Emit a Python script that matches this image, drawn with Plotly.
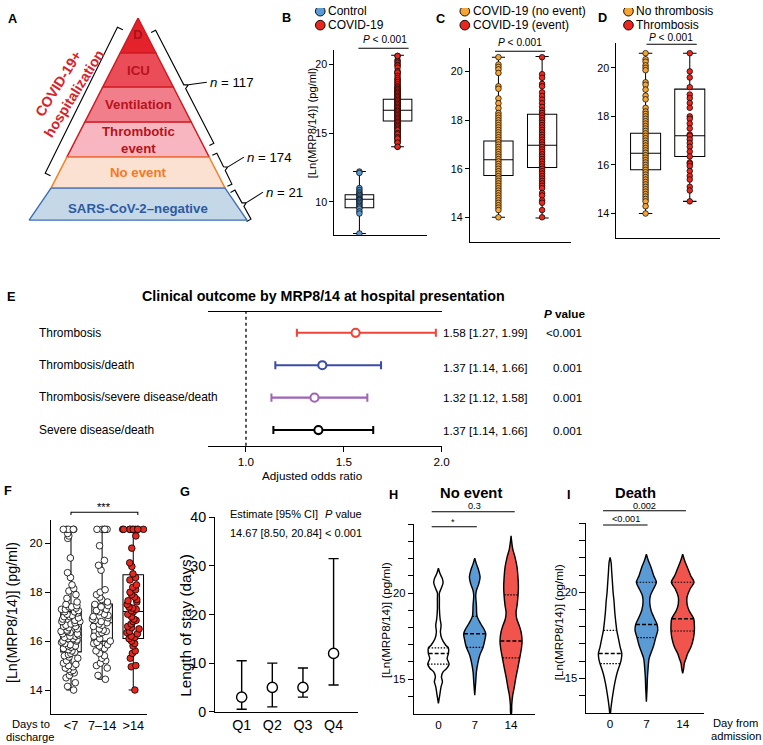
import numpy as np
import plotly.graph_objects as go

# Built in reference pixel space (763x745) and mapped onto the output canvas.
W, H = 763, 745
SX = 775 / 763
SY = 761 / 745
OY = -8.0
FW, FH = 775, 753
SF = (SX + SY) / 2
FONT = "Liberation Sans, Arial, Helvetica, sans-serif"

# ======================= DATA =======================
# Panel A
tier_labels = ["D", "ICU", "Ventilation", "Thrombotic<br>event", "No event", "SARS-CoV-2–negative"]
group_sizes = [117, 174, 21]

# Panel B
b_groups = ["Control", "COVID-19"]
b_q1 = [9.57, 15.87]
b_med = [10.18, 16.65]
b_q3 = [10.52, 17.45]
b_lo = [7.7, 14.0]
b_hi = [12.2, 20.65]
b_control = [12.2, 12.1, 11.0, 10.85, 10.7, 10.6, 10.5, 10.4, 10.3, 10.2, 10.15,
             10.1, 10.0, 9.9, 9.8, 9.7, 9.6, 9.5, 9.3, 9.15, 7.7]

# Panel C
c_groups = ["COVID-19 (no event)", "COVID-19 (event)"]
c_q1 = [15.72, 16.05]
c_med = [16.37, 16.97]
c_q3 = [17.15, 18.25]
c_lo = [14.0, 13.97]
c_hi = [20.6, 20.63]
c_no_event = [20.6, 20.3, 20.2, 20.1, 19.95, 19.4, 19.3, 18.9, 18.7, 18.5, 18.3, 18.2, 18.1,
              18.0, 17.9, 17.8, 17.7, 17.6, 17.5, 17.4, 17.3, 17.2, 17.1, 17.0, 16.9, 16.8,
              16.7, 16.6, 16.5, 16.4, 16.3, 16.2, 16.1, 16.0, 15.9, 15.8, 15.7, 15.6, 15.5,
              15.4, 15.3, 15.2, 15.1, 15.0, 14.9, 14.8, 14.7, 14.6, 14.5, 14.4, 14.3, 14.0]
c_event = [20.6, 19.9, 19.75, 19.5, 19.4, 19.15, 19.0, 18.85, 18.7, 18.55, 18.4, 18.3, 18.2,
           18.1, 18.0, 17.9, 17.8, 17.7, 17.6, 17.5, 17.4, 17.3, 17.2, 17.1, 17.0, 16.9,
           16.8, 16.7, 16.6, 16.5, 16.4, 16.3, 16.2, 16.1, 16.0, 15.9, 15.8, 15.7, 15.6,
           15.5, 15.4, 15.3, 15.2, 15.0, 14.9, 14.7, 14.6, 14.3, 14.0]

# Panel D
d_groups = ["No thrombosis", "Thrombosis"]
d_q1 = [15.8, 16.35]
d_med = [16.48, 17.2]
d_q3 = [17.3, 19.12]
d_lo = [14.0, 14.5]
d_hi = [20.6, 20.6]
d_no_thrombosis = [20.6, 20.35, 20.25, 20.1, 20.0, 19.9, 19.4, 19.3, 19.1, 18.85, 18.7, 18.35,
                   18.2, 18.1, 18.0, 17.9, 17.8, 17.7, 17.6, 17.5, 17.4, 17.3, 17.2, 17.1,
                   17.0, 16.9, 16.8, 16.7, 16.6, 16.5, 16.4, 16.3, 16.2, 16.1, 16.0, 15.9,
                   15.8, 15.7, 15.6, 15.5, 15.4, 15.3, 15.2, 15.1, 15.0, 14.9, 14.8, 14.7,
                   14.6, 14.5, 14.3, 14.0]
d_thrombosis = [20.6, 19.85, 19.6, 19.2, 18.9, 18.75, 18.55, 18.35, 18.0, 17.9, 17.7, 17.5,
                17.25, 17.2, 17.05, 16.9, 16.75, 16.55, 16.35, 16.1, 16.05, 15.95, 15.75,
                15.55, 15.4, 15.1, 14.95, 14.5]

# Panel E
e_outcomes = ["Thrombosis", "Thrombosis/death", "Thrombosis/severe disease/death", "Severe disease/death"]
e_or = [1.56, 1.39, 1.35, 1.37]
e_lo = [1.26, 1.15, 1.13, 1.14]
e_hi = [1.97, 1.69, 1.62, 1.65]
e_text = ["1.58 [1.27, 1.99]", "1.37 [1.14, 1.66]", "1.32 [1.12, 1.58]", "1.37 [1.14, 1.66]"]
e_p = ["<0.001", "0.001", "0.001", "0.001"]

# Panel F
f_cats = ["<7", "7–14", ">14"]
f_q1 = [15.56, 16.0, 16.11]
f_med = [16.35, 16.75, 17.21]
f_q3 = [17.21, 17.52, 18.71]
f_lo = [14.0, 14.44, 14.0]
f_hi = [20.57, 20.57, 20.57]
f_under7 = [20.57, 20.57, 20.57, 20.57, 20.57, 20.4, 20.3, 20.2, 19.4, 18.8, 18.6, 18.3, 18.15,
            18.05, 17.9, 17.75, 17.6, 17.5, 17.45, 17.4, 17.4, 17.35, 17.3, 17.3, 17.25, 17.2,
            17.2, 17.15, 17.1, 17.05, 17.0, 17.0, 16.95, 16.9, 16.85, 16.8, 16.8, 16.75, 16.7,
            16.65, 16.6, 16.6, 16.55, 16.5, 16.45, 16.4, 16.4, 16.35, 16.3, 16.3, 16.25, 16.2,
            16.2, 16.15, 16.1, 16.1, 16.05, 16.0, 16.0, 15.95, 15.9, 15.85, 15.8, 15.8, 15.75,
            15.7, 15.65, 15.6, 15.55, 15.5, 15.45, 15.4, 15.35, 15.3, 15.2, 15.1, 15.05, 15.0,
            14.95, 14.9, 14.85, 14.8, 14.75, 14.7, 14.6, 14.5, 14.3, 14.15, 14.0]
f_7to14 = [20.57, 20.57, 20.57, 20.57, 20.57, 19.9, 19.3, 19.1, 18.9, 18.1, 18.0, 17.9, 17.8,
           17.7, 17.6, 17.5, 17.45, 17.4, 17.3, 17.25, 17.2, 17.1, 17.05, 17.0, 16.95, 16.9,
           16.85, 16.8, 16.75, 16.7, 16.65, 16.6, 16.5, 16.45, 16.4, 16.35, 16.3, 16.2, 16.1,
           16.0, 15.95, 15.9, 15.85, 15.8, 15.7, 15.6, 15.5, 15.4, 15.3, 15.2, 15.1, 15.0,
           14.9, 14.6, 14.44]
f_over14 = [20.57, 20.57, 20.57, 20.57, 20.57, 20.57, 20.57, 20.57, 20.57, 20.57, 20.3, 19.8,
            19.2, 19.05, 18.75, 18.6, 18.5, 18.3, 18.2, 18.1, 18.0, 17.9, 17.8, 17.7, 17.65,
            17.6, 17.5, 17.4, 17.35, 17.3, 17.25, 17.2, 17.1, 17.0, 16.9, 16.85, 16.8, 16.7,
            16.6, 16.55, 16.5, 16.4, 16.35, 16.3, 16.2, 16.15, 16.1, 16.0, 15.9, 15.8, 15.6,
            15.5, 15.3, 15.0, 14.95, 14.0]

# Panel G
g_cats = ["Q1", "Q2", "Q3", "Q4"]
g_est = [3.0, 5.0, 5.0, 12.0]
g_lo = [0.5, 1.0, 3.0, 5.5]
g_hi = [10.5, 10.0, 9.0, 31.5]

# Panels H / I (violin outlines: value, relative density)
day_labels = ["0", "7", "14"]
h0_v = [21.45, 21.12, 20.83, 20.60, 20.25, 20.02, 19.67, 19.09, 18.51, 18.13, 17.74, 17.36,
        16.97, 16.81, 16.49, 16.20, 15.87, 15.62, 15.42, 15.14, 14.85, 14.56, 14.07, 13.59]
h0_d = [0, 5, 12, 14, 8, 3, 3, 3, 5, 8, 6, 10, 22, 30, 30, 26, 32, 25, 14, 9, 12, 8, 4, 0]
h7_v = [22.03, 21.70, 21.31, 20.92, 20.54, 20.15, 19.86, 19.29, 18.65, 18.22, 17.93, 17.64,
        17.26, 16.85, 16.39, 16.0, 15.42, 14.85, 14.07]
h7_d = [0, 5, 12, 16, 12, 5, 3, 5, 7, 18, 27, 33, 30, 25, 15, 10, 5, 3, 0]
h14_v = [23.34, 22.57, 22.08, 21.50, 20.83, 20.35, 19.90, 19.29, 18.90, 18.51, 18.13, 17.74,
         17.22, 16.78, 16.24, 15.62, 15.04, 14.46, 14.07, 13.49, 12.97]
h14_d = [0, 5, 12, 18, 21, 22, 21, 18, 15, 17, 24, 30, 33, 31, 26, 20, 14, 9, 5, 2, 1]
i0_v = [22.02, 21.73, 21.15, 20.58, 20.0, 19.42, 18.85, 18.27, 17.79, 17.31, 16.83, 16.44,
        16.06, 15.85, 15.38, 15.0, 14.52, 14.04, 13.65, 13.17, 12.98]
i0_d = [0, 3, 5, 7, 9, 12, 14, 17, 20, 25, 30, 35, 33, 30, 22, 17, 12, 8, 5, 2, 1]
i7_v = [22.21, 21.83, 21.44, 20.96, 20.58, 20.19, 19.81, 19.42, 18.94, 18.56, 18.13, 17.79,
        17.37, 16.92, 16.54, 16.15, 15.58, 15.0, 14.42, 13.65]
i7_d = [0, 6, 14, 22, 30, 21, 12, 10, 14, 22, 32, 34, 28, 22, 15, 8, 5, 3, 2, 0]
i14_v = [22.21, 21.83, 21.44, 20.96, 20.58, 20.19, 19.71, 19.33, 18.94, 18.46, 18.08, 17.75,
         17.31, 16.83, 16.44, 16.15, 15.87, 15.58, 15.29]
i14_d = [0, 6, 14, 24, 34, 22, 13, 13, 19, 33, 35, 35, 32, 25, 15, 10, 5, 3, 0]
h_quart = [[16.81, 16.49, 15.87], [18.65, 17.64, 16.85], [19.90, 17.22, 16.24]]
i_quart = [[17.79, 16.44, 15.85], [20.58, 18.13, 17.37], [20.58, 18.46, 17.75]]
violin_ytick_vals = [14, 15, 16, 17, 18, 19, 20, 21, 22, 23, 24]
violin_ytick_text = ["", "15", "", "", "", "", "20", "", "", "", ""]

# ======================= STYLE =======================
BLUE_PT = "#5b9bd5"
RED_PT = "#e8281e"
ORANGE_PT = "#f5a535"
V_BLUE = "#5b9bd5"
V_RED = "#f1534d"
E_COLORS = ["#f0433a", "#3b4ea6", "#a163b5", "#000000"]


def fs(v):
    return v * SF


def tf(size):
    return dict(family=FONT, size=fs(size), color="black")


fig = go.Figure()
ann = []


def txt(x, y, s, size=12, bold=False, color="black", xa="center", ya="middle", angle=0):
    if bold:
        s = f"<b>{s}</b>"
    ann.append(dict(x=x, y=y, xref="x", yref="y", text=s, showarrow=False,
                    font=dict(family=FONT, size=fs(size), color=color),
                    xanchor=xa, yanchor=ya, textangle=angle, borderpad=0))


def seg(xs, ys, color="black", width=1.0, dash="solid"):
    fig.add_trace(go.Scatter(x=xs, y=ys, mode="lines", xaxis="x", yaxis="y",
                             line=dict(color=color, width=fs(width), dash=dash),
                             hoverinfo="skip", showlegend=False))


def brace(p0, p1, inward_x, hook=5.0, tip=4.0, notch=True):
    p0 = np.array(p0, float)
    p1 = np.array(p1, float)
    d = (p1 - p0) / np.linalg.norm(p1 - p0)
    n = np.array([d[1], -d[0]])
    if n[0] * inward_x < 0:
        n = -n
    mid = (p0 + p1) / 2
    pts = [p0 + n * hook, p0]
    if notch:
        pts += [mid - d * 2, mid - n * tip, mid + d * 2]
    pts += [p1, p1 + n * hook]
    pts = np.array(pts)
    seg(pts[:, 0], pts[:, 1], width=1.1)
    return mid - n * tip


# ---------------- Panel A: pyramid ----------------
tier_fills = ["#e3222b", "#eb4d58", "#f17f8b", "#f8b6c0", "#fbe1d1", "#c4d8e8"]
tier_lines = ["#d01a22", "#d01a22", "#d01a22", "#d01a22", "#f58025", "#3d6fb6"]
tier_text = ["#a8121b", "#b8121c", "#b8121c", "#b8121c", "#f47a20", "#2d5aa2"]
tier_heights = [35, 34, 35, 35, 31, 32]
apex_x, apex_y, slope = 137.5, 18.0, 0.51
bounds = np.cumsum([apex_y] + tier_heights)
for k, lab in enumerate(tier_labels):
    y0, y1 = bounds[k], bounds[k + 1]
    hw0 = slope * (y0 - apex_y)
    hw1 = slope * (y1 - apex_y) if k < len(tier_labels) - 1 else 108.5
    fig.add_trace(go.Scatter(x=[apex_x - hw0, apex_x + hw0, apex_x + hw1, apex_x - hw1, apex_x - hw0],
                             y=[y0, y0, y1, y1, y0], mode="lines", fill="toself",
                             fillcolor=tier_fills[k], line=dict(color=tier_lines[k], width=fs(1.4)),
                             xaxis="x", yaxis="y", hoverinfo="skip", showlegend=False))
    ymid = (y0 + y1) / 2 + [-1, 0, 0, 0, 0, 4][k]
    txt(apex_x, ymid, lab, size=13, bold=True, color=tier_text[k])

txt(66, 88, "COVID-19+<br>hospitalization", size=14, bold=True, color="#d9232a", angle=-58)
brace((117, 27), (45, 173), inward_x=1, hook=6, notch=False)
t1 = brace((155, 30), (213, 143), inward_x=-1)
seg([t1[0], 206], [t1[1], 82])
txt(208, 82, f"<i>n</i> = {group_sizes[0]}", size=13, xa="left")
t2 = brace((216, 153), (231, 184), inward_x=-1, tip=3.5)
seg([t2[0], 243], [t2[1], 157])
txt(245, 157, f"<i>n</i> = {group_sizes[1]}", size=13, xa="left")
t3 = brace((234, 190), (250, 219), inward_x=-1, tip=3.5)
seg([t3[0], 262], [t3[1], 192])
txt(264, 192, f"<i>n</i> = {group_sizes[2]}", size=13, xa="left")
txt(12, 18, "A", size=12.5, bold=True)

# ---------------- axes helpers ----------------
layout_axes = {}
base_ax = dict(showline=True, linecolor="black", linewidth=fs(1), showgrid=False, zeroline=False,
               ticks="outside", ticklen=fs(4), tickwidth=fs(1), tickcolor="black",
               tickfont=tf(10.5), fixedrange=True)


def add_axes(i, xpx, ypx, xr, yr, xkw=None, ykw=None):
    xa = dict(base_ax)
    xa.update(domain=[xpx[0] * SX / FW, xpx[1] * SX / FW], range=xr, anchor=f"y{i}")
    xa.update(xkw or {})
    ya = dict(base_ax)
    ya.update(domain=[1 - (ypx[1] * SY + OY) / FH, 1 - (ypx[0] * SY + OY) / FH], range=yr, anchor=f"x{i}")
    ya.update(ykw or {})
    layout_axes[f"xaxis{i}"] = xa
    layout_axes[f"yaxis{i}"] = ya


no_x = dict(ticks="", showticklabels=False)

# ---------------- Panels B, C, D ----------------
add_axes(2, (333, 425), (50, 235), [-0.658, 1.763], [7.58, 21.02], no_x, dict(tickvals=[10, 15, 20]))
add_axes(3, (468, 569), (48.3, 241.7), [-0.655, 1.667], [12.99, 20.96], no_x, dict(tickvals=[14, 16, 18, 20]))
add_axes(4, (614, 717), (43.3, 237.7), [-0.66, 1.68], [13.0, 21.0], no_x, dict(tickvals=[14, 16, 18, 20]))

b_covid = c_no_event + c_event
panels_bcd = [
    (2, b_q1, b_med, b_q3, b_lo, b_hi, [b_control, b_covid], [BLUE_PT, RED_PT], 0.75),
    (3, c_q1, c_med, c_q3, c_lo, c_hi, [c_no_event, c_event], [ORANGE_PT, RED_PT], 0.67),
    (4, d_q1, d_med, d_q3, d_lo, d_hi, [d_no_thrombosis, d_thrombosis], [ORANGE_PT, RED_PT], 0.68),
]
for i, q1, md, q3, lo, hi, pts, cols, bw in panels_bcd:
    fig.add_trace(go.Box(x=[0, 1], q1=q1, median=md, q3=q3, lowerfence=lo, upperfence=hi,
                         width=bw, whiskerwidth=0.45, boxpoints=False,
                         line=dict(color="black", width=fs(1)), fillcolor="rgba(0,0,0,0)",
                         xaxis=f"x{i}", yaxis=f"y{i}", hoverinfo="skip", showlegend=False))
    for g, (vals, col) in enumerate(zip(pts, cols)):
        fig.add_trace(go.Scatter(x=np.full(len(vals), g), y=vals, mode="markers",
                                 marker=dict(size=fs(5.5), color=col, line=dict(color="black", width=fs(0.7))),
                                 xaxis=f"x{i}", yaxis=f"y{i}", hoverinfo="skip", showlegend=False))

# legends
for lx, labels, cols in [(319, b_groups, [BLUE_PT, RED_PT]), (463, c_groups, [ORANGE_PT, RED_PT]),
                         (626, d_groups, [ORANGE_PT, RED_PT])]:
    fig.add_trace(go.Scatter(x=[lx, lx], y=[11, 25], mode="markers", xaxis="x", yaxis="y",
                             marker=dict(size=fs(9.5), color=cols, line=dict(color="black", width=fs(0.9))),
                             hoverinfo="skip", showlegend=False))
    txt(lx + 7, 11, labels[0], size=11.8, xa="left")
    txt(lx + 7, 25, labels[1], size=11.8, xa="left")

txt(285, 17, "B", size=12.5, bold=True)
txt(439, 18, "C", size=12.5, bold=True)
txt(600, 17, "D", size=12.5, bold=True)
for cx, x0, x1, yl, yt in [(383, 357, 407, 48, 39), (518, 493, 543, 51, 42), (668, 644, 694, 44, 37)]:
    seg([x0, x1], [yl, yl])
    txt(cx, yt, "<i>P</i> < 0.001", size=10)
txt(311, 123, "[Ln(MRP8/14)] (pg/ml)", size=11, angle=-90)

# ---------------- Panel E ----------------
add_axes(5, (207, 440), (311.7, 445.7), [0.805, 2.0], [3.485, -0.648],
         dict(tickvals=[1.0, 1.5, 2.0], ticktext=["1.0", "1.5", "2.0"], mirror=True, ticklen=fs(5),
              tickfont=tf(11.5)),
         dict(visible=False))
fig.add_shape(type="line", xref="x5", yref="y5 domain", x0=1.0, x1=1.0, y0=0, y1=1,
              line=dict(color="black", width=fs(1.3), dash="dot"))
for r in range(len(e_outcomes)):
    fig.add_trace(go.Scatter(x=[e_or[r]], y=[r], mode="markers",
                             error_x=dict(type="data", symmetric=False, array=[e_hi[r] - e_or[r]],
                                          arrayminus=[e_or[r] - e_lo[r]], color=E_COLORS[r],
                                          thickness=fs(2), width=fs(4)),
                             marker=dict(size=fs(8), color="white", line=dict(color=E_COLORS[r], width=fs(2))),
                             xaxis="x5", yaxis="y5", hoverinfo="skip", showlegend=False))
row_y = [332.7, 365, 397.3, 430]
for r in range(len(e_outcomes)):
    txt(38, row_y[r], e_outcomes[r], size=11.7, xa="left")
    txt(440, row_y[r] + (2.5 if r == 1 else 0), e_text[r], size=11.5, xa="left")
    txt(581, row_y[r] + (2.5 if r == 1 else 0), e_p[r], size=11.5, xa="right")
txt(562, 313, "<i>P</i> value", size=11.5, bold=True)
txt(322, 296, "Clinical outcome by MRP8/14 at hospital presentation", size=14, bold=True)
txt(11, 296, "E", size=12.5, bold=True)
txt(311, 475, "Adjusted odds ratio", size=11.5)

# ---------------- Panel F ----------------
add_axes(6, (50.7, 146.7), (520, 714), [-0.645, 2.45], [13.02, 20.95],
         dict(ticks="", tickvals=[0, 1, 2], ticktext=f_cats, tickfont=tf(12.5)),
         dict(tickvals=[14, 16, 18, 20], ticklen=fs(5), tickfont=tf(11.5)))
fig.add_trace(go.Box(x=[0, 1, 2], q1=f_q1, median=f_med, q3=f_q3, lowerfence=f_lo, upperfence=f_hi,
                     width=0.66, whiskerwidth=0.45, boxpoints=False,
                     line=dict(color="black", width=fs(1)), fillcolor="rgba(0,0,0,0)",
                     xaxis="x6", yaxis="y6", hoverinfo="skip", showlegend=False))
for g, (vals, col) in enumerate(zip([f_under7, f_7to14, f_over14], ["white", "white", RED_PT])):
    fig.add_trace(go.Box(y=vals, x0=g, boxpoints="all", jitter=1.0, pointpos=0, width=0.7,
                         whiskerwidth=0, line=dict(color="rgba(0,0,0,0)", width=0),
                         fillcolor="rgba(0,0,0,0)",
                         marker=dict(size=fs(6.5), color=col, line=dict(color="black", width=fs(0.8))),
                         xaxis="x6", yaxis="y6", hoverinfo="skip", showlegend=False))
txt(8, 490, "F", size=12.5, bold=True)
seg([70.7, 70.7, 137.3, 137.3], [515, 512.3, 512.3, 515])
txt(104, 507, "***", size=11)
txt(30.5, 724, "Days to", size=11)
txt(30.5, 737, "discharge", size=11)
txt(12, 613, "[Ln(MRP8/14)] (pg/ml)", size=14, angle=-90)

# ---------------- Panel G ----------------
add_axes(7, (214.3, 356.7), (517.3, 711.7), [-0.866, 3.8], [0, 40],
         dict(ticks="", tickvals=[0, 1, 2, 3], ticktext=g_cats, tickfont=tf(14)),
         dict(tickvals=[0, 10, 20, 30, 40], ticklen=fs(5), tickfont=tf(14)))
fig.add_trace(go.Scatter(x=list(range(len(g_cats))), y=g_est, mode="markers",
                         error_y=dict(type="data", symmetric=False,
                                      array=[h - e for h, e in zip(g_hi, g_est)],
                                      arrayminus=[e - l for e, l in zip(g_est, g_lo)],
                                      color="black", thickness=fs(1.4), width=fs(5)),
                         marker=dict(size=fs(10), color="white", line=dict(color="black", width=fs(1.4))),
                         xaxis="x7", yaxis="y7", hoverinfo="skip", showlegend=False))
txt(184, 491, "G", size=12.5, bold=True)
txt(228, 514, "Estimate [95% CI]", size=10.8, xa="left")
txt(228, 533.3, "14.67 [8.50, 20.84]", size=10.8, xa="left")
txt(323, 514, "<i>P</i> value", size=10.8, xa="left")
txt(323, 533.3, "< 0.001", size=10.8, xa="left")
txt(184, 625, "Length of stay (days)", size=15, angle=-90)

# ---------------- Panels H and I ----------------
vkw_y = dict(tickvals=violin_ytick_vals, ticktext=violin_ytick_text, ticklen=fs(5), tickfont=tf(11))
vkw_x = dict(ticks="", tickvals=[0, 1, 2], ticktext=day_labels, tickfont=tf(11.5))
add_axes(8, (412.3, 533.3), (524.3, 714), [-0.674, 2.67], [12.97, 24], vkw_x, vkw_y)
add_axes(9, (583.3, 701.7), (523.3, 713.3), [-0.675, 2.6], [12.97, 24], vkw_x, vkw_y)

DENS_SCALE = 0.304 / 33.0
violin_sets = [
    (8, [(h0_v, h0_d), (h7_v, h7_d), (h14_v, h14_d)], h_quart),
    (9, [(i0_v, i0_d), (i7_v, i7_d), (i14_v, i14_d)], i_quart),
]
vfills = ["white", V_BLUE, V_RED]
for i, profiles, quarts in violin_sets:
    for g, (vv, dd) in enumerate(profiles):
        v = np.array(vv)
        w = np.array(dd) * DENS_SCALE
        xs = np.concatenate([g + w, (g - w)[::-1], [g + w[0]]])
        ys = np.concatenate([v, v[::-1], [v[0]]])
        fig.add_trace(go.Scatter(x=xs, y=ys, mode="lines", fill="toself", fillcolor=vfills[g],
                                 line=dict(color="black", width=fs(1.4), shape="spline", smoothing=0.8),
                                 xaxis=f"x{i}", yaxis=f"y{i}", hoverinfo="skip", showlegend=False))
        order = np.argsort(v)
        for qi, q in enumerate(quarts[g]):
            wq = np.interp(q, v[order], w[order]) * 0.97
            fig.add_trace(go.Scatter(x=[g - wq, g + wq], y=[q, q], mode="lines",
                                     line=dict(color="black", width=fs(1.5 if qi == 1 else 1.2),
                                               dash="4px,2px" if qi == 1 else "1.5px,1.5px"),
                                     xaxis=f"x{i}", yaxis=f"y{i}", hoverinfo="skip", showlegend=False))

txt(392, 494, "H", size=12.5, bold=True)
txt(469.3, 493, "No event", size=14.5, bold=True)
seg([430, 512.7], [511.7, 511.7])
txt(472.3, 506, "0.3", size=9)
seg([430, 475], [526.7, 526.7])
txt(451.7, 521.5, "*", size=9)
txt(383.5, 620, "[Ln(MRP8/14)] (pg/ml)", size=11.5, angle=-90)

txt(567, 494, "I", size=12.5, bold=True)
txt(633.3, 493, "Death", size=14.5, bold=True)
seg([600.7, 683.3], [510.7, 510.7])
txt(641.7, 505.5, "0.002", size=9)
seg([600.7, 645], [525, 525])
txt(623.3, 519, "<0.001", size=9)
txt(556, 622, "[Ln(MRP8/14)] (pg/ml)", size=11.5, angle=-90)
txt(732.7, 723, "Day from", size=11)
txt(732.7, 735.5, "admission", size=11)

# ---------------- layout ----------------
fig.update_layout(
    width=FW, height=FH, margin=dict(l=0, r=0, t=0, b=0),
    paper_bgcolor="white", plot_bgcolor="rgba(0,0,0,0)", showlegend=False,
    font=dict(family=FONT, color="black"),
    xaxis=dict(domain=[0, 1], range=[0, FW / SX], visible=False, fixedrange=True),
    yaxis=dict(domain=[0, 1], range=[(FH - OY) / SY, -OY / SY], visible=False, fixedrange=True),
    annotations=ann, boxmode="overlay",
    **layout_axes,
)
fig.write_html("out.html", config={"displayModeBar": False},
               post_script="document.body.style.margin='0';document.body.style.overflow='hidden';")
